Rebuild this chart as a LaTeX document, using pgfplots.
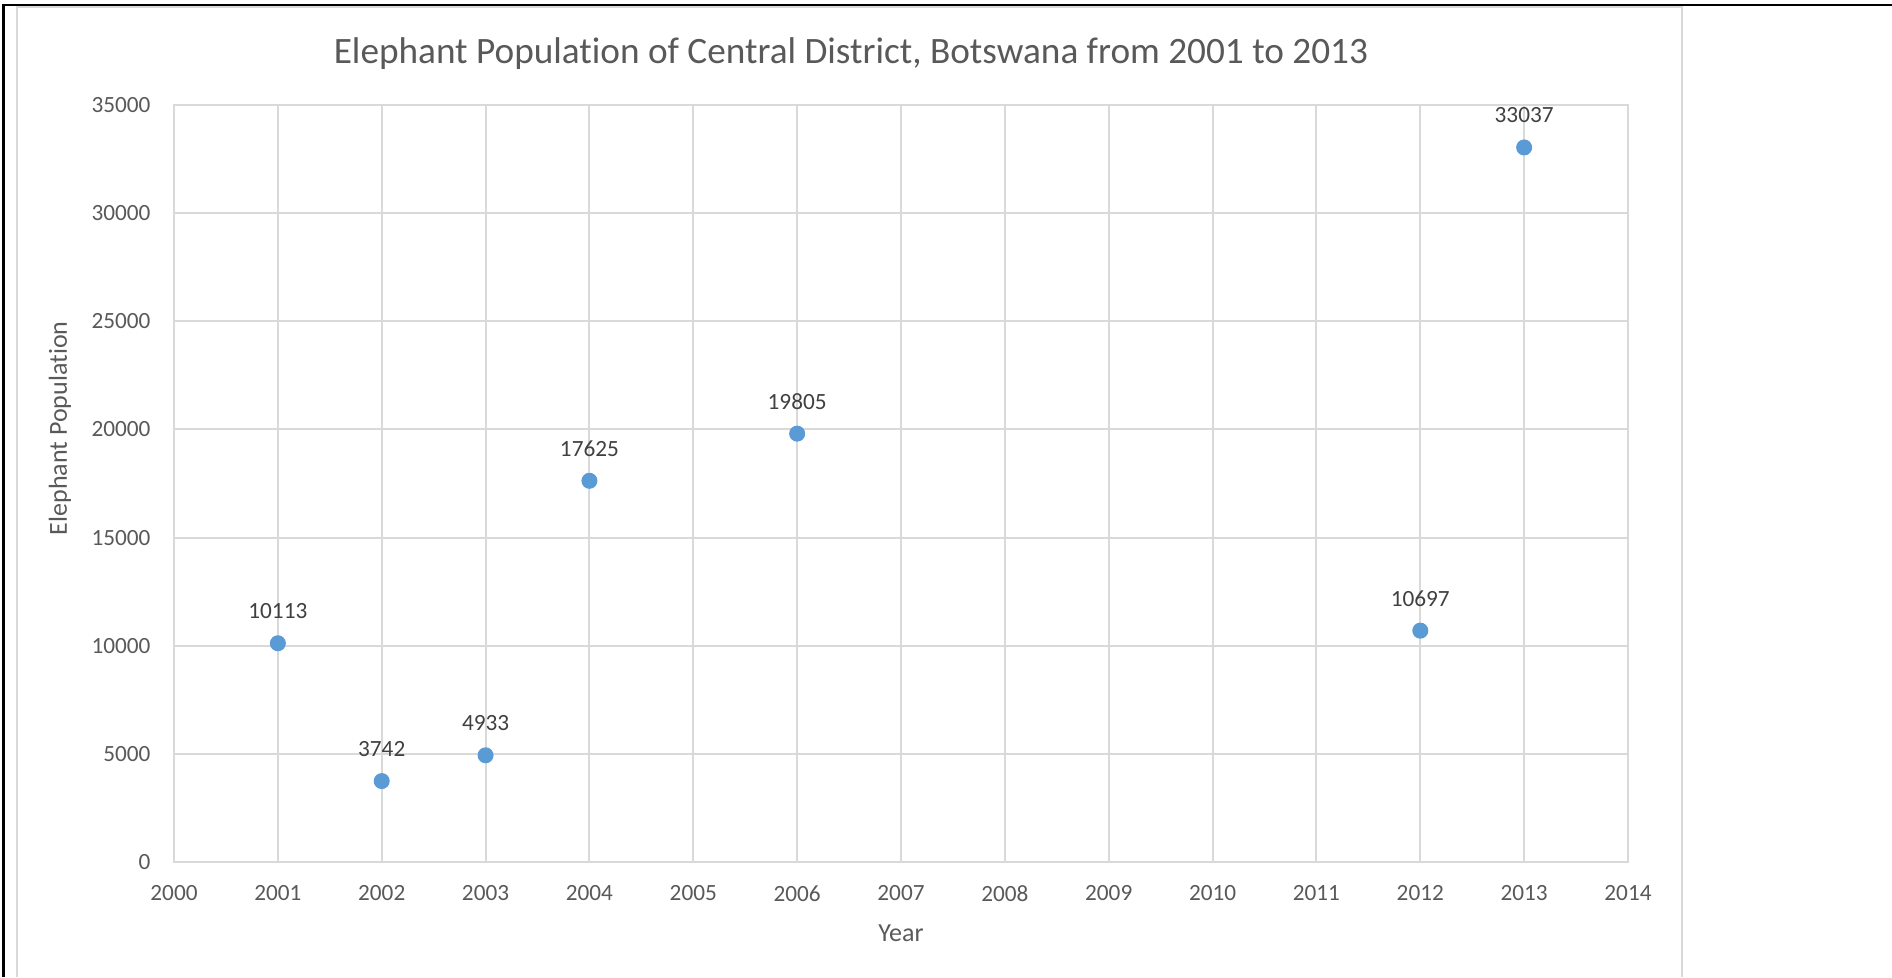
\documentclass[border=0pt]{standalone}
\usepackage{pgfplots}
\pgfplotsset{compat=1.18}
\usepackage{fontspec}
\setmainfont{Carlito}[Ligatures=NoCommon]
\definecolor{ptblue}{HTML}{5B9BD5}
\definecolor{txtgray}{HTML}{595959}
\definecolor{lblgray}{HTML}{404040}
\definecolor{gridgray}{HTML}{D9D9D9}
\begin{document}
\begin{tikzpicture}
\path[use as bounding box] (0,0) rectangle (756.8pt,390.8pt);
\draw[gridgray, line width=0.8pt] (6.8pt,0) -- (6.8pt,388pt) -- (672.8pt,388pt) -- (672.8pt,0);
\draw[black, line width=1.2pt] (1.4pt,0) -- (1.4pt,388.6pt);
\draw[black, line width=0.8pt] (0.8pt,388.6pt) -- (756.8pt,388.6pt);
\begin{axis}[
  at={(69.6pt,46pt)}, anchor=south west,
  scale only axis, width=581.6pt, height=302.8pt,
  xmin=2000, xmax=2014, ymin=0, ymax=35000,
  xtick={2000,2001,...,2014}, ytick={0,5000,...,35000},
  grid=major, major grid style={gridgray, line width=0.8pt},
  axis line style={gridgray, line width=0.8pt},
  tick style={draw=none},
  /pgf/number format/assume math mode=true,
  /pgf/number format/1000 sep={},
  ticklabel style={font=\fontsize{9.3}{11}\selectfont, text=txtgray, inner sep=0pt},
  yticklabel style={anchor=east, xshift=-9.2pt},
  xticklabel style={anchor=north, yshift=-9.2pt},
  scaled ticks=false,
  title={Elephant Population of Central District, Botswana from 2001 to 2013},
  title style={at={(axis description cs:0.4656,1.048)}, anchor=center, font=\fontsize{14.9}{18}\selectfont, text=txtgray},
  xlabel={Year},
  ylabel={Elephant Population},
  xlabel style={at={(axis description cs:0.5,-0.0938)}, anchor=center, font=\fontsize{10.4}{12}\selectfont, text=txtgray},
  ylabel style={at={(axis description cs:-0.0784,0.573)}, anchor=center, font=\fontsize{10.4}{12}\selectfont, text=txtgray},
  nodes near coords,
  point meta=y,
  nodes near coords style={anchor=center, yshift=12.8pt, inner sep=0pt, font=\fontsize{9.3}{11}\selectfont, text=lblgray, /pgf/number format/fixed, /pgf/number format/precision=0, /pgf/number format/1000 sep={}},
]
\addplot[only marks, mark=*, mark size=3pt, mark options={fill=ptblue, draw=ptblue}] coordinates {
(2001,10113) (2002,3742) (2003,4933) (2004,17625) (2006,19805) (2012,10697) (2013,33037)
};
\end{axis}
\end{tikzpicture}
\end{document}
